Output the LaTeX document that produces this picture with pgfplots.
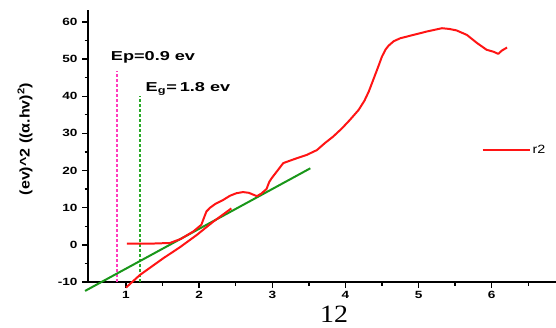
\documentclass[border=0pt]{standalone}
\usepackage{pgfplots}
\pgfplotsset{compat=1.18}
\usepackage{fontspec}
\setmainfont{Liberation Sans}
\newfontfamily\seriffont{Liberation Serif}

\definecolor{curvered}{RGB}{255,20,20}
\definecolor{fitgreen}{RGB}{25,150,25}
\definecolor{egreen}{RGB}{40,170,40}
\definecolor{eppink}{RGB}{255,60,190}

\begin{document}
\begin{tikzpicture}
\useasboundingbox (0bp,0bp) rectangle (556bp,328bp);
\begin{axis}[
  at={(88bp,46bp)}, anchor=south west,
  scale only axis, width=468bp, height=272bp,
  xmin=0.48, xmax=6.879, ymin=-10, ymax=63.2,
  axis lines*=left,
  axis line style={line width=2pt, -},
  clip=false,
  xtick={1,...,6}, ytick={-10,0,...,60},
  minor xtick={1.5,2.5,...,6.5}, minor ytick={-5,5,...,55},
  tick align=outside,
  major tick length=6bp, minor tick length=3.5bp,
  every tick/.style={black, line width=1.4pt},
  /pgf/number format/assume math mode=true,
  ticklabel style={font=\fontsize{10.5}{12}\selectfont\bfseries, xscale=1.3},
  legend style={draw=none, fill=none, at={(axis cs:5.86,25.5)}, anchor=west,
    inner sep=0pt, font=\fontsize{12}{14}\selectfont},
  legend image code/.code={\draw[#1] (0bp,0bp) -- (47bp,0bp);},
]
% guide lines for the two energies
\addplot[forget plot, eppink, line width=1.8pt, dash pattern=on 3bp off 2bp]
  coordinates {(0.88,-10) (0.88,46.8)};
\addplot[forget plot, egreen, line width=1.8pt, dash pattern=on 3bp off 2bp]
  coordinates {(1.19,-10) (1.19,40)};
% linear fit of the absorption edge
\addplot[forget plot, fitgreen, line width=2pt]
  coordinates {(0.44,-12.4) (3.52,20.6)};
% second straight segment
\addplot[forget plot, curvered, line width=2pt] coordinates {
  (1.0,-11.5) (1.19,-8.1) (1.51,-3.6) (1.74,-0.6) (1.97,2.7) (2.19,6.2) (2.44,9.8)};
% measured curve
\addplot[curvered, line width=2pt, line join=round] coordinates {
  (1.01,0.3) (1.3,0.3) (1.6,0.5) (1.75,1.6) (1.92,3.6) (2.03,5.4) (2.07,7.5)
  (2.1,9.0) (2.15,10.0) (2.22,11.0) (2.33,12.1) (2.42,13.2) (2.51,13.9)
  (2.6,14.2) (2.68,14.0) (2.74,13.5) (2.79,13.1) (2.85,13.8) (2.92,15.0)
  (2.96,17.0) (2.99,17.9) (3.06,19.7) (3.15,22.0) (3.29,23.0) (3.47,24.2)
  (3.61,25.5) (3.72,27.4) (3.83,29.1) (3.95,31.3) (4.06,33.6) (4.18,36.3)
  (4.26,38.8) (4.32,41.3) (4.38,44.4) (4.44,47.5) (4.50,50.7) (4.55,52.6)
  (4.59,53.6) (4.66,54.8) (4.75,55.6) (4.93,56.5) (5.11,57.4) (5.32,58.3)
  (5.42,58.1) (5.52,57.7) (5.66,56.5) (5.80,54.3) (5.93,52.5) (6.02,52.0)
  (6.09,51.4) (6.14,52.3) (6.21,53.1)};
\addlegendentry{\scalebox{1.2}[1]{r2}}
\end{axis}
% axis title and annotations
\node[rotate=90, xscale=1.15, font=\fontsize{14}{16}\selectfont\bfseries]
  at (25bp,189bp) {(ev)\^{}2 ((α.hv)\textsuperscript{2})};
\node[xscale=1.4, font=\fontsize{13}{15}\selectfont\bfseries]
  at (153bp,271bp) {Ep=0.9 ev};
\node[xscale=1.4, font=\fontsize{13}{15}\selectfont\bfseries]
  at (188bp,239bp) {E\textsubscript{g}=\,1.8 ev};
\node[anchor=base, inner sep=0pt, xscale=1.12, font=\seriffont\fontsize{25}{27}\selectfont]
  at (334bp,6bp) {12};
\end{tikzpicture}
\end{document}
